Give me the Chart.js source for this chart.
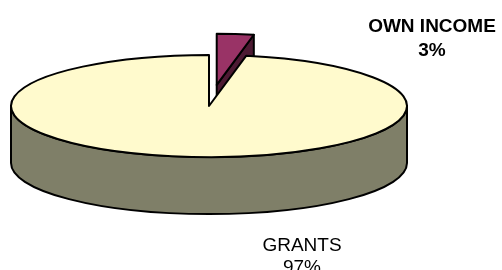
<!DOCTYPE html>
<html>
<head>
<meta charset="utf-8">
<script src="https://cdn.jsdelivr.net/npm/chart.js@4"></script>
<style>
  html, body { margin: 0; padding: 0; background: #fff; }
  #wrap { width: 502px; height: 270px; }
</style>
</head>
<body>
<div id="wrap"><canvas id="pieChart"></canvas></div>
<script>
// Data
const categories = ['OWN INCOME', 'GRANTS'];
const shares = [3, 97]; // percent

const topColors = ['#993366', '#FFFACD'];
const sideColors = ['#4D1A33', '#7F7F68'];

// 3D look
const tilt = 0.258;    // ellipse height / width
const depth = 57;      // thickness of the pie in px
const explode = [82, 0];

const pie3d = {
  id: 'pie3d',
  beforeDatasetsDraw(chart) {
    const ctx = chart.ctx;
    const arcs = chart.getDatasetMeta(0).data.map((arc, i) => ({ arc, i }));
    // paint back slices first
    arcs.sort((a, b) => {
      const ma = (a.arc.startAngle + a.arc.endAngle) / 2;
      const mb = (b.arc.startAngle + b.arc.endAngle) / 2;
      return Math.sin(ma) - Math.sin(mb);
    });

    ctx.save();
    ctx.lineWidth = 2;
    ctx.lineJoin = 'round';
    ctx.strokeStyle = '#000';

    arcs.forEach(({ arc, i }) => {
      const a0 = arc.startAngle, a1 = arc.endAngle;
      const mid = (a0 + a1) / 2;
      const r = arc.outerRadius;
      const ry = r * tilt;
      const cx = arc.x + Math.cos(mid) * explode[i];
      const cy = arc.y + Math.sin(mid) * explode[i] * tilt;

      ctx.fillStyle = sideColors[i];

      // radial walls facing the viewer
      const wall = (a) => {
        ctx.beginPath();
        ctx.moveTo(cx, cy);
        ctx.lineTo(cx + r * Math.cos(a), cy + ry * Math.sin(a));
        ctx.lineTo(cx + r * Math.cos(a), cy + ry * Math.sin(a) + depth);
        ctx.lineTo(cx, cy + depth);
        ctx.closePath();
        ctx.fill();
        ctx.stroke();
      };
      if (Math.cos(a0) < -1e-6) wall(a0);
      if (Math.cos(a1) > 1e-6) wall(a1);

      // outer rim, front half only
      for (let n = -1; n <= 1; n++) {
        const s = Math.max(a0, n * 2 * Math.PI);
        const e = Math.min(a1, n * 2 * Math.PI + Math.PI);
        if (e > s) {
          ctx.beginPath();
          ctx.ellipse(cx, cy, r, ry, 0, s, e);
          ctx.ellipse(cx, cy + depth, r, ry, 0, e, s, true);
          ctx.closePath();
          ctx.fill();
          ctx.stroke();
        }
      }

      // top face
      ctx.fillStyle = arc.options.backgroundColor;
      ctx.beginPath();
      ctx.moveTo(cx, cy);
      ctx.ellipse(cx, cy, r, ry, 0, a0, a1);
      ctx.closePath();
      ctx.fill();
      ctx.stroke();
    });
    ctx.restore();
    return false;
  },
  afterDraw(chart) {
    const ctx = chart.ctx;
    const total = shares.reduce((s, v) => s + v, 0);
    const spots = [
      { x: 432, y: 32, font: 'bold 19px "Liberation Sans", Arial, sans-serif', gap: 24 },
      { x: 302, y: 251, font: '19px "Liberation Sans", Arial, sans-serif', gap: 22 }
    ];
    ctx.save();
    ctx.fillStyle = '#000';
    ctx.textAlign = 'center';
    ctx.textBaseline = 'alphabetic';
    categories.forEach((name, i) => {
      const p = spots[i];
      ctx.font = p.font;
      ctx.fillText(name, p.x, p.y);
      ctx.fillText(Math.round(shares[i] / total * 100) + '%', p.x, p.y + p.gap);
    });
    ctx.restore();
  }
};

new Chart(document.getElementById('pieChart'), {
  type: 'pie',
  data: {
    labels: categories,
    datasets: [{
      data: shares,
      backgroundColor: topColors,
      borderWidth: 0,
      radius: 198
    }]
  },
  options: {
    responsive: true,
    maintainAspectRatio: false,
    animation: false,
    events: [],
    layout: { padding: { left: 0, right: 84, top: 0, bottom: 58 } },
    plugins: {
      legend: { display: false },
      tooltip: { enabled: false }
    }
  },
  plugins: [pie3d]
});
</script>
</body>
</html>
